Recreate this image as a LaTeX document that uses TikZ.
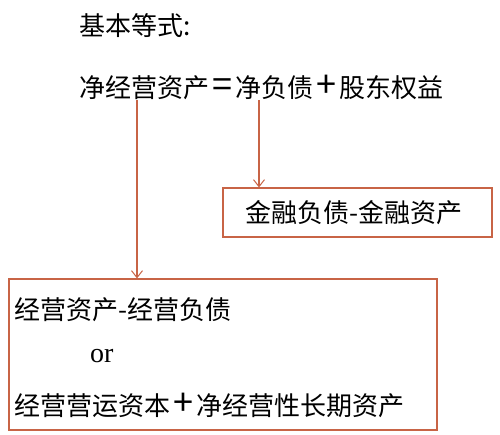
\documentclass[tikz,border=0pt]{standalone}
\usepackage{fontspec}
\setmainfont{Liberation Serif}
\newfontfamily\cjk{Noto Sans CJK SC}
\usetikzlibrary{arrows.meta}
\definecolor{linec}{RGB}{200,100,70}
\newcommand{\fw}[1]{\makebox[1em]{\fontsize{36}{36}\selectfont #1}}
\tikzset{
  txt/.style={inner sep=0pt, anchor=west, font=\cjk\fontsize{26}{30}\selectfont},
  box/.style={draw=linec, line width=1.1pt, rectangle, inner sep=0pt},
  conn/.style={draw=linec, line width=1.1pt, -{Straight Barb[length=7pt,width=11pt,line width=1pt]}}
}
\begin{document}
\begin{tikzpicture}[x=1pt,y=-1pt]
\useasboundingbox (0,0) rectangle (500,435);
\node[txt] (title) at (79,26) {基本等式:};
\node[txt] (eq) at (79,87) {净经营资产\fw{=}净负债\fw{+}股东权益};
\node[box, minimum width=269pt, minimum height=49pt] (b1) at (357.5,212.5) {};
\node[txt] (t1) at (245,212.5) {金融负债-金融资产};
\node[box, minimum width=428pt, minimum height=151pt] (b2) at (223,354.5) {};
\node[txt] (l1) at (14,310) {经营资产-经营负债};
\node[txt, font=\fontsize{28}{32}\selectfont] (l2) at (90,356) {or};
\node[txt] (l3) at (14,405) {经营营运资本\fw{+}净经营性长期资产};
\coordinate (s1) at (137,100);
\coordinate (s2) at (259,100);
\draw[conn] (s1) -- (s1 |- b2.north);
\draw[conn] (s2) -- (s2 |- b1.north);
\end{tikzpicture}
\end{document}
